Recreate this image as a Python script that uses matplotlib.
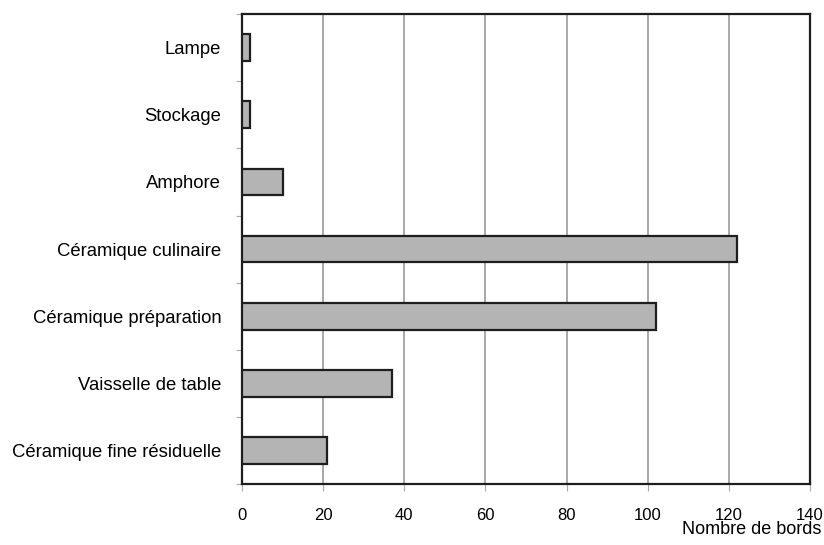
import numpy as np
import matplotlib.pyplot as plt

plt.rcParams['font.family'] = ['Liberation Sans', 'DejaVu Sans']

categories = ['Céramique fine résiduelle', 'Vaisselle de table', 'Céramique préparation',
              'Céramique culinaire', 'Amphore', 'Stockage', 'Lampe']
values = [21, 37, 102, 122, 10, 2, 2]
xticks = [0, 20, 40, 60, 80, 100, 120, 140]

fig = plt.figure(figsize=(8.24, 5.45), dpi=100)
ax = fig.add_axes([0.2937, 0.112, 0.6893, 0.862])

y = np.arange(len(categories))
ax.barh(y, values, height=0.4, color='#b4b4b4', edgecolor='#1e1e1e', linewidth=1.6, zorder=3)

ax.set_xlim(0, 140)
ax.set_ylim(-0.5, len(categories) - 0.5)
ax.set_xticks(xticks)
ax.set_xticklabels([str(t) for t in xticks], fontsize=12)
ax.xaxis.grid(True, color='#9a9a9a', linewidth=1.2, zorder=0)
ax.tick_params(axis='x', length=5, width=0.8, color='#aaaaaa', pad=12)

ax.set_yticks(y)
ax.set_yticklabels(categories, fontsize=13.3)
ax.tick_params(axis='y', which='major', length=0, pad=15)
ax.set_yticks(np.arange(-0.5, len(categories)), minor=True)
ax.tick_params(axis='y', which='minor', length=4, width=0.8, color='#aaaaaa')

for s in ax.spines.values():
    s.set_linewidth(1.6)
    s.set_color('#1e1e1e')

fig.text(0.997, 1 - 534 / 545, 'Nombre de bords', fontsize=13, ha='right', va='baseline')

fig.savefig('out.png', dpi=100)
